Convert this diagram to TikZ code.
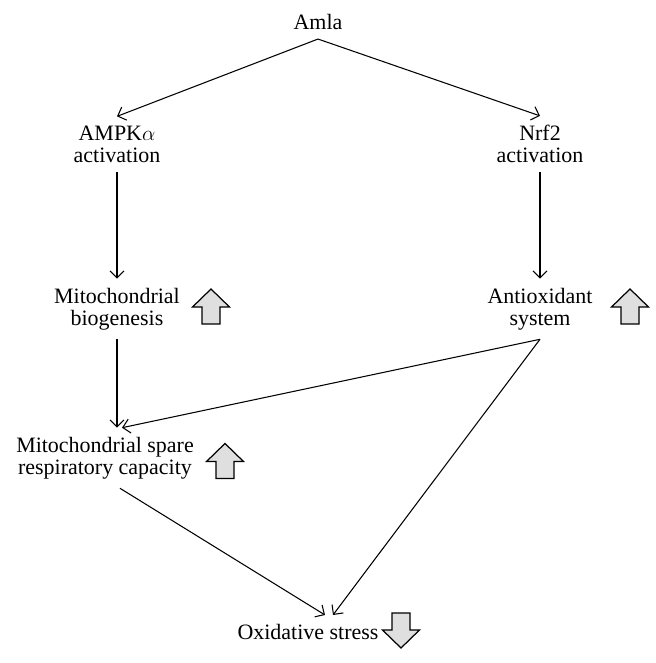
\documentclass[tikz,border=0pt]{standalone}
\usepackage{fontspec}
\setmainfont{Liberation Serif}
\usetikzlibrary{arrows.meta}

\tikzset{
  lbl/.style={align=center, inner sep=5pt, font=\fontsize{12.5}{12.5}\selectfont},
  uparr/.pic={\draw[fill=gray!25, line width=0.7pt, line join=miter]
    (0,-17.5) -- (18.5,0.5) -- (9,0.5) -- (9,17.5) -- (-9,17.5) -- (-9,0.5) -- (-18.5,0.5) -- cycle;}
}

\begin{document}
\begin{tikzpicture}[x=0.02cm, y=-0.02cm, line width=0.6pt, >={Straight Barb[length=4pt,width=8pt]}]
\def\xmid{318};
\def\xleft{117};
\def\xright{540};

\def\ytop{22};
\def\yact{144};
\def\ysys{309};
\def\yspare{458};
\def\ybot{632};

\useasboundingbox (0,0) rectangle (656,663);

\node[lbl] (amla) at (\xmid, \ytop) {Amla};
\node[lbl] (ampk) at (\xleft, \yact) {AMPK$\alpha$\\activation};
\node[lbl] (nrf) at (\xright, \yact) {Nrf2\\activation};
\node[lbl] (bio) at (\xleft, \ysys) {Mitochondrial\\biogenesis};
\node[lbl] (anti) at (\xright, \ysys) {Antioxidant\\system};
\node[lbl] (spare) at (105, \yspare) {Mitochondrial spare\\respiratory capacity};
\node[lbl] (ox) at (308, \ybot) {Oxidative stress};

% up and down block arrows
\pic at (211, 306.5) {uparr};
\pic at (630, 306.5) {uparr};
\pic at (225, 461) {uparr};
\pic[rotate=180] at (401, 630.5) {uparr};

\draw[->] (amla.south) -- (ampk.north);
\draw[->] (amla.south) -- (nrf.north);
\draw[->] (ampk.south) -- (bio.north);
\draw[->] (nrf.south) -- (anti.north);
\draw[->] (bio.south) -- (bio.south |- spare.north);
\draw[->] (anti.south) -- ([xshift=0.1cm]bio.south |- spare.north);
\draw[->] (anti.south) -- ([xshift=0.5cm]ox.north);
\draw[->] ([xshift=0.3cm]spare.south) -- ([xshift=0.34cm]ox.north);

\end{tikzpicture}
\end{document}
